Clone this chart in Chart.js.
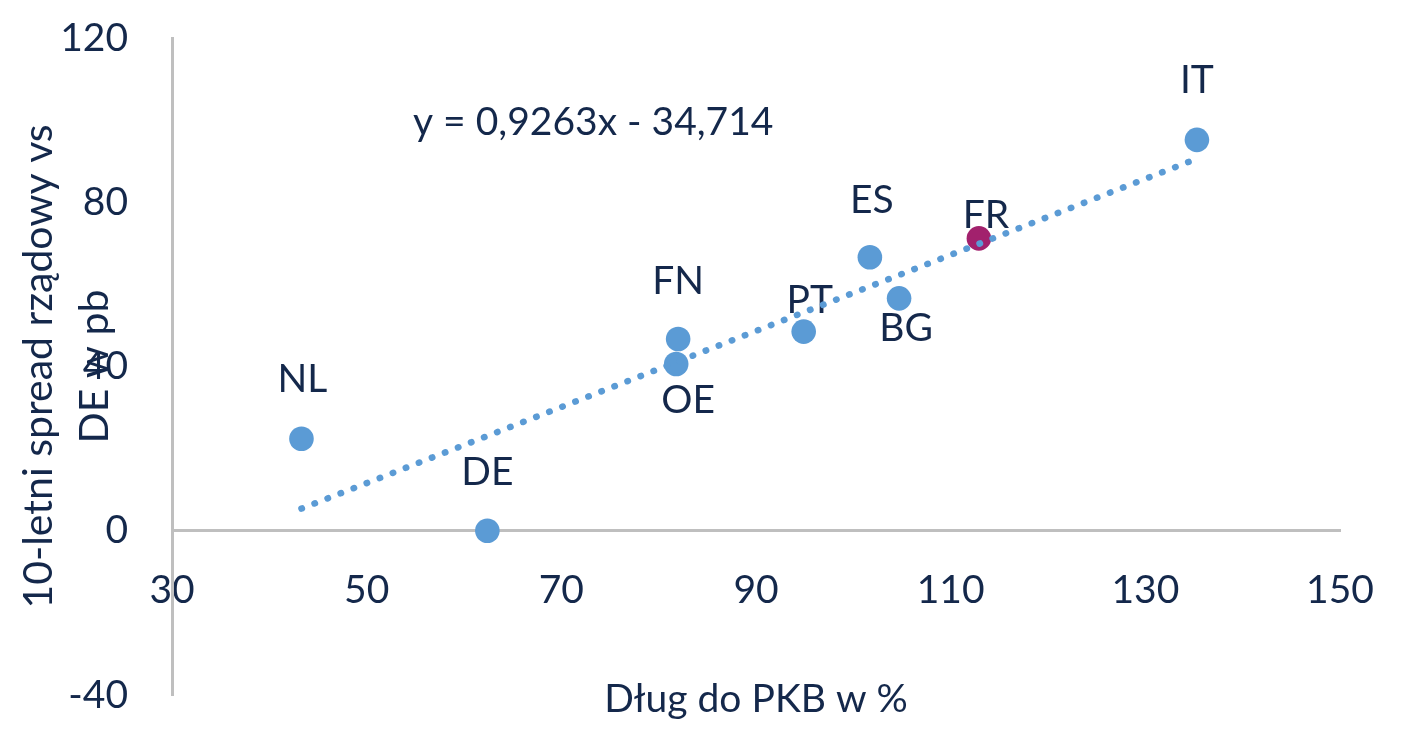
<!DOCTYPE html>
<html>
<head>
<meta charset="utf-8">
<script src="https://cdn.jsdelivr.net/npm/chart.js@4/dist/chart.umd.min.js"></script>
<style>
  html, body { margin: 0; padding: 0; background: #fff; }
  #wrap { width: 1402px; height: 732px; position: relative; }
</style>
</head>
<body>
<div id="wrap"><canvas id="chart"></canvas></div>
<script>
"use strict";

// data
const COUNTRIES = ["NL", "DE", "FN", "OE", "PT", "ES", "BG", "FR", "IT"];
const DEBT = [43.3, 62.4, 82.0, 81.8, 94.9, 101.7, 104.7, 112.9, 135.3];
const SPREAD = [22.4, 0, 46.7, 40.6, 48.5, 66.6, 56.6, 71.2, 95.2];
const X_RANGE = [30, 150];
const Y_RANGE = [-40, 120];
const TREND_SLOPE = 0.9263;
const TREND_INTERCEPT = -34.714;
const HIGHLIGHT = "FR";

const X_TITLE = "Dług do PKB w %";
const Y_TITLE = ["10-letni spread rządowy vs", "DE w pb"];
const EQUATION = "y = 0,9263x - 34,714";

const C = {
  text: "#14284B",
  point: "#5B9BD5",
  highlight: "#A2216D",
  axis: "#BFBFBF"
};
const FONT = "Lato, 'Open Sans', sans-serif";
const FS = 39;

// label offsets from the point centre (px), as Excel left them
const LABEL_OFFSETS = {
  NL: [1, -59], DE: [0, -58], FN: [0, -58], OE: [12, 36], PT: [6, -31],
  ES: [2, -57], BG: [7, 30], FR: [7, -23], IT: [0, -59]
};

const points = COUNTRIES.map((c, i) => ({ x: DEBT[i], y: SPREAD[i] }));
const xMin = Math.min(...DEBT), xMax = Math.max(...DEBT);
const trend = [xMin, xMax].map(x => ({ x: x, y: TREND_SLOPE * x + TREND_INTERCEPT }));

const labelPlugin = {
  id: "labels",
  beforeDatasetsDraw(chart) {
    const ctx = chart.ctx;
    const meta = chart.getDatasetMeta(1);
    ctx.save();
    ctx.font = FS + "px " + FONT;
    ctx.fillStyle = C.text;
    ctx.textAlign = "center";
    ctx.textBaseline = "middle";
    meta.data.forEach((el, i) => {
      const off = LABEL_OFFSETS[COUNTRIES[i]];
      ctx.fillText(COUNTRIES[i], el.x + off[0], el.y + off[1]);
    });
    ctx.restore();
  },
  afterDraw(chart) {
    const ctx = chart.ctx;
    const a = chart.chartArea;
    ctx.save();
    ctx.font = FS + "px " + FONT;
    ctx.fillStyle = C.text;
    // equation
    ctx.textAlign = "left";
    ctx.textBaseline = "alphabetic";
    ctx.fillText(EQUATION, 413, 135);
    // x title
    ctx.textAlign = "center";
    ctx.fillText(X_TITLE, (a.left + a.right) / 2, 712);
    // y title, two rotated lines
    ctx.font = "41px " + FONT;
    const cy = (a.top + a.bottom) / 2;
    [52, 108].forEach((bx, i) => {
      ctx.save();
      ctx.translate(bx, cy);
      ctx.rotate(-Math.PI / 2);
      ctx.fillText(Y_TITLE[i], 0, 0);
      ctx.restore();
    });
    ctx.restore();
  }
};

new Chart(document.getElementById("chart"), {
  data: {
    datasets: [
      {
        type: "line",
        data: trend,
        borderColor: C.point,
        borderWidth: 6.5,
        borderDash: [0.5, 13.5],
        borderCapStyle: "round",
        pointRadius: 0,
        fill: false,
        order: 0
      },
      {
        type: "scatter",
        data: points,
        pointRadius: 12.3,
        pointHoverRadius: 12.3,
        pointBorderWidth: 0,
        pointBackgroundColor: COUNTRIES.map(c => c === HIGHLIGHT ? C.highlight : C.point),
        order: 1
      }
    ]
  },
  options: {
    responsive: true,
    maintainAspectRatio: false,
    animation: false,
    layout: { padding: { left: 0, top: 38, right: 62, bottom: 37 } },
    plugins: { legend: { display: false }, tooltip: { enabled: false } },
    scales: {
      x: {
        type: "linear",
        min: X_RANGE[0],
        max: X_RANGE[1],
        position: { y: 0 },
        afterFit: s => { s.height = 0; s.paddingLeft = 0; s.paddingRight = 0; s.paddingTop = 0; s.paddingBottom = 0; },
        grid: { display: false, drawTicks: false },
        border: { display: true, color: C.axis, width: 3 },
        ticks: { stepSize: 20, color: C.text, font: { family: FONT, size: FS }, padding: 36 }
      },
      y: {
        type: "linear",
        min: Y_RANGE[0],
        max: Y_RANGE[1],
        position: "left",
        afterFit: s => { s.width = 172; s.paddingTop = 0; s.paddingBottom = 0; },
        grid: { display: false, drawTicks: false },
        border: { display: true, color: C.axis, width: 3 },
        ticks: { stepSize: 40, color: C.text, font: { family: FONT, size: FS }, padding: 44 }
      }
    }
  },
  plugins: [labelPlugin]
});
</script>
</body>
</html>
